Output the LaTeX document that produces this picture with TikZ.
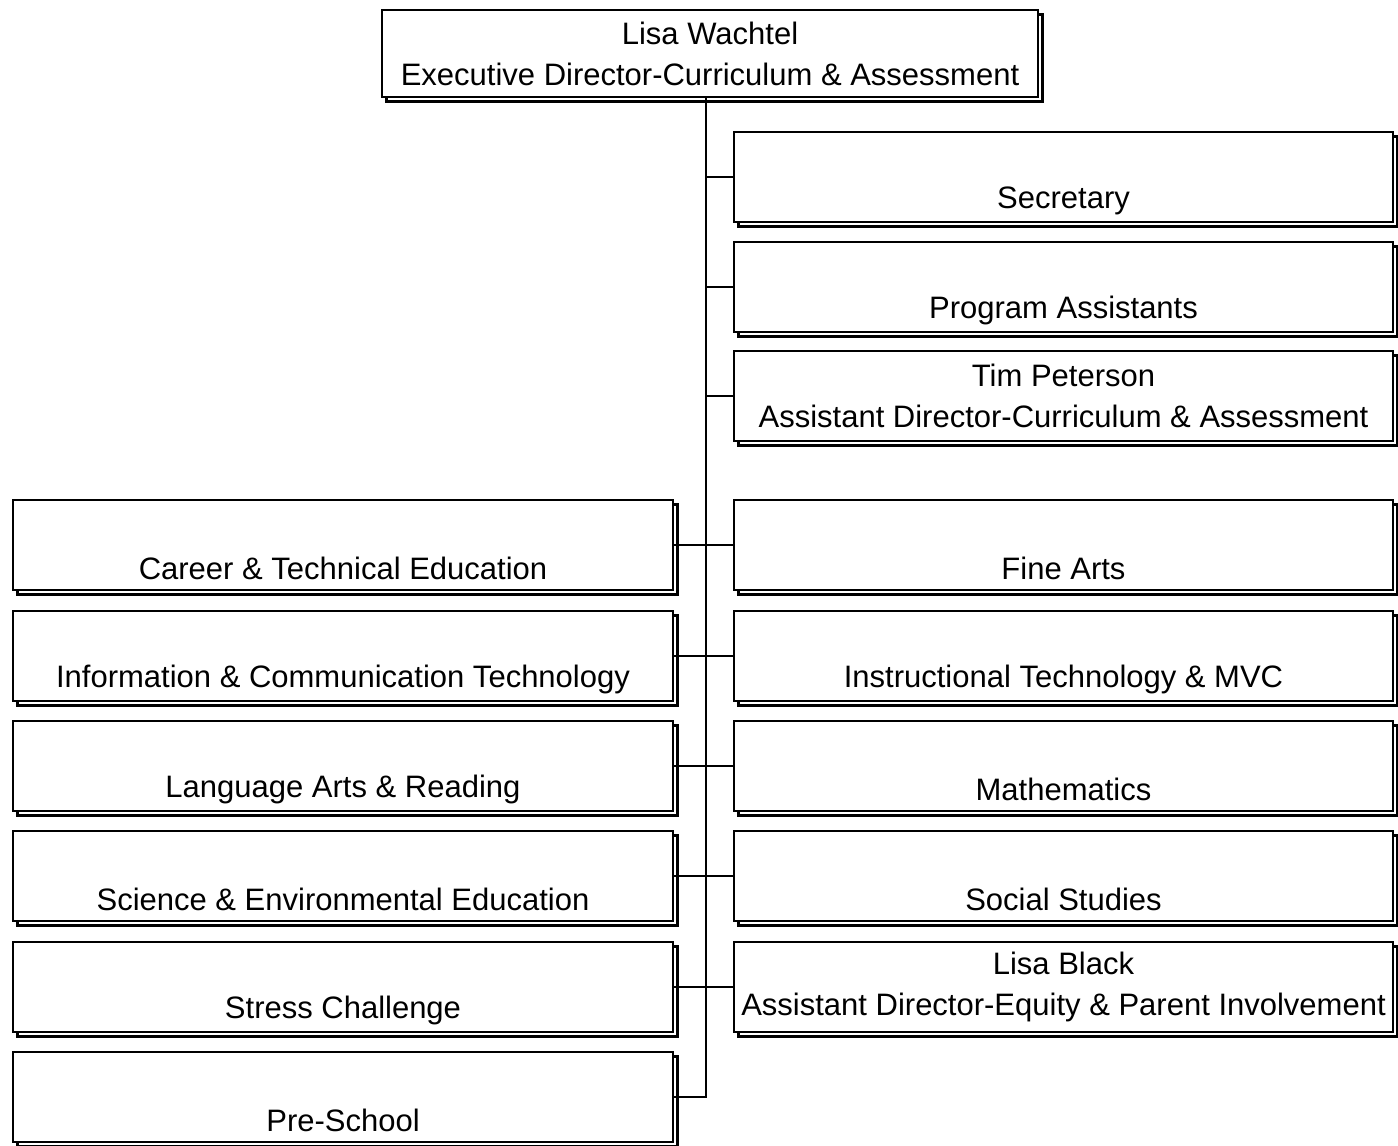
\documentclass[tikz,border=0pt]{standalone}
\usepackage{fontspec}
\setmainfont{Liberation Sans}
\usetikzlibrary{shadows}
\begin{document}
\begin{tikzpicture}[x=1pt,y=-1pt,
  orgbox/.style={draw=black, line width=2.5pt, fill=white, inner sep=0pt,
    minimum height=90pt, align=center,
    font=\fontsize{31}{41}\selectfont,
    copy shadow={shadow xshift=4.5pt, shadow yshift=-4.5pt}},
  rbox/.style={orgbox, minimum width=659pt},
  lbox/.style={orgbox, minimum width=660pt},
  link/.style={draw=black, line width=2.2pt}]
\useasboundingbox (0,0) rectangle (1398,1146);
\fill[white] (0,0) rectangle (1398,1146);
\node[orgbox, minimum width=656pt, minimum height=87pt] (top) at (710,53.5) {Lisa Wachtel\\Executive Director-Curriculum \& Assessment};
% right column
\node[rbox] (sec) at (1063.5,177) {\strut\\Secretary};
\node[rbox] (pa) at (1063.5,287) {\strut\\Program Assistants};
\node[rbox] (tim) at (1063.5,396) {Tim Peterson\\Assistant Director-Curriculum \& Assessment};
\node[rbox] (fa) at (1063.5,545) {\strut\\Fine Arts};
\node[rbox] (it) at (1063.5,656) {\strut\\Instructional Technology \& MVC};
\node[rbox] (math) at (1063.5,766) {\strut\\Mathematics};
\node[rbox] (ss) at (1063.5,876) {\strut\\Social Studies};
\node[rbox] (lb) at (1063.5,987) {Lisa Black\\Assistant Director-Equity \& Parent Involvement};
% left column
\node[lbox] (cte) at (343,545) {\strut\\Career \& Technical Education};
\node[lbox] (ict) at (343,656) {\strut\\Information \& Communication Technology};
\node[lbox] (la) at (343,766) {\strut\\Language Arts \& Reading};
\node[lbox] (sci) at (343,876) {\strut\\Science \& Environmental Education};
\node[lbox] (stress) at (343,987) {\strut\\Stress Challenge};
\node[lbox] (pre) at (343,1097) {\strut\\Pre-School};
% connectors
\coordinate (tx) at (706,0);
\draw[link] (top.south -| tx) -- (pre.east -| tx) -- (pre.east);
\foreach \n in {sec,pa,tim,fa,it,math,ss,lb}{
  \draw[link] (\n.west -| tx) -- (\n.west);
}
\foreach \n in {cte,ict,la,sci,stress}{
  \draw[link] (\n.east -| tx) -- (\n.east);
}
\end{tikzpicture}
\end{document}
